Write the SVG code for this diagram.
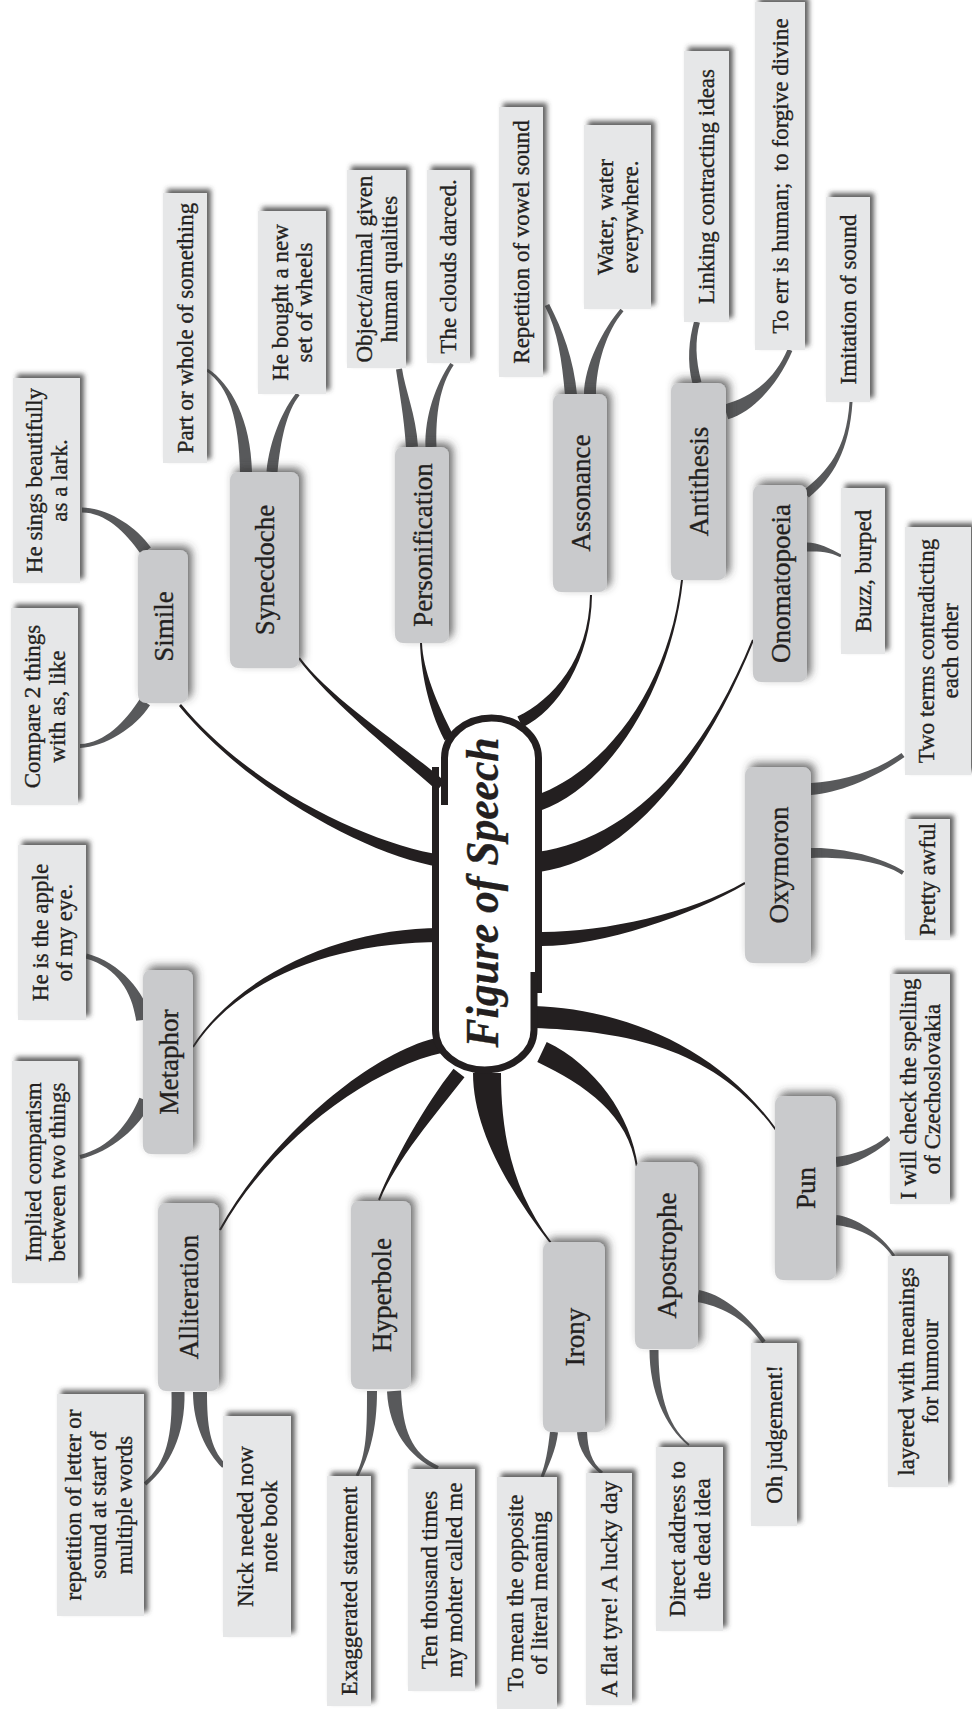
<svg xmlns="http://www.w3.org/2000/svg" width="972" height="1709" viewBox="0 0 972 1709">
<style>
  .leaf rect { fill: #e6e7e8; filter: url(#leafShadow); }
  .cat rect { fill: #c9cacc; filter: url(#catShadow); }
  text { font-family: "Liberation Serif", "Times New Roman", serif; fill: #231f20; text-anchor: middle; stroke: #231f20; stroke-width: 0.35; }
  .lt { font-size: 23px; }
  .ct { font-size: 27px; }
  .blk { fill: #231f20; }
  .gry { fill: #58595b; }
  .rim { fill: none; stroke: #231f20; stroke-width: 7; stroke-linejoin: round; }
</style>
<defs>
  <filter id="leafShadow" x="-30%" y="-20%" width="160%" height="140%">
    <feGaussianBlur in="SourceAlpha" stdDeviation="2.5"/>
    <feOffset dx="4" dy="-4" result="b"/>
    <feFlood flood-color="#3a3a3a" flood-opacity="0.8"/>
    <feComposite in2="b" operator="in"/>
    <feMerge><feMergeNode/><feMergeNode in="SourceGraphic"/></feMerge>
  </filter>
  <filter id="catShadow" x="-30%" y="-20%" width="160%" height="140%">
    <feGaussianBlur in="SourceAlpha" stdDeviation="4"/>
    <feOffset dx="4" dy="-4" result="b"/>
    <feFlood flood-color="#3a3a3a" flood-opacity="0.75"/>
    <feComposite in2="b" operator="in"/>
    <feMerge><feMergeNode/><feMergeNode in="SourceGraphic"/></feMerge>
  </filter>
</defs>
<rect width="972" height="1709" fill="#ffffff"/>

<!-- tapered branches: black from the hub, grey from each category -->
<g id="connectors">
  <path class="blk" d="M442,855 C371,844 251,789 181,704 L179,706 C249,791 369,856 440,867 Z"/>
  <path class="blk" d="M445,781.5 C404,745.5 331,699.4 300,657.4 L298,658.6 C329,700.6 396,754.5 437,790.5 Z"/>
  <path class="blk" d="M453.5,735.7 C436.5,702.7 423,670 422,643 L420,643 C421,670 427.5,707.3 444.5,740.3 Z"/>
  <path class="blk" d="M522.6,727.4 C557.6,710.4 591,660 592,595 L590,595 C589,660 552.4,699.6 517.4,716.6 Z"/>
  <path class="blk" d="M540.7,810.5 C607.7,787.5 671,690.1 683,580.1 L681,579.9 C669,689.9 602.3,772.5 535.3,795.5 Z"/>
  <path class="blk" d="M539.4,871.9 C626.4,859.9 700.9,770.4 753.9,640.4 L752.1,639.6 C699.1,769.6 623.6,840.1 536.6,852.1 Z"/>
  <path class="blk" d="M538,946 C600,947 690.5,915.9 745.5,883.9 L744.5,882.1 C689.5,914.1 600,933 538,932 Z"/>
  <path class="blk" d="M534,1028 C620,1031 714.2,1045.6 775.2,1130.6 L776.8,1129.4 C715.8,1044.4 620,1009 534,1006 Z"/>
  <path class="blk" d="M537.3,1061.9 C585.3,1084.9 629,1115.1 636,1167.1 L638,1166.9 C631,1114.9 594.7,1065.1 546.7,1042.1 Z"/>
  <path class="blk" d="M473,1073 C473,1130 509.2,1190.6 550.2,1243.6 L551.8,1242.4 C510.8,1189.4 501,1130 501,1073 Z"/>
  <path class="blk" d="M453.5,1068.7 C424.5,1105.7 394.1,1159.6 378.1,1199.6 L379.9,1200.4 C395.9,1160.4 435.5,1114.3 464.5,1077.3 Z"/>
  <path class="blk" d="M439.3,1037.2 C368.3,1052.2 269.1,1139.5 219.1,1229.5 L220.9,1230.5 C270.9,1140.5 371.7,1067.8 442.7,1052.8 Z"/>
  <path class="blk" d="M441,928 C340,928 239.2,974.5 192.2,1046.5 L193.8,1047.5 C240.8,975.5 340,942 441,942 Z"/>

  <path class="gry" d="M150.9,547.6 C134.9,524.6 105,507.5 82,507.5 L82,512.5 C105,512.5 125.1,531.4 141.1,554.4 Z"/>
  <path class="gry" d="M140,698.7 C125,721.7 105,743 80,744 L80,748 C105,747 135,728.3 150,705.3 Z"/>
  <path class="gry" d="M252,472 C251,420 230.8,383.7 207.8,368.7 L206.2,371.3 C229.2,386.3 239,420 240,472 Z"/>
  <path class="gry" d="M277.5,472.5 C280.5,440.5 286.6,411.3 299.6,395.3 L296.4,392.7 C283.4,408.7 269.5,439.5 266.5,471.5 Z"/>
  <path class="gry" d="M418,446.6 C416,414.6 405,389.6 402,368.6 L396,369.4 C399,390.4 404,415.4 406,447.4 Z"/>
  <path class="gry" d="M436.5,446.8 C435.5,414.8 439.7,386.1 453.7,365.1 L450.3,362.9 C436.3,383.9 424.5,415.2 425.5,447.2 Z"/>
  <path class="gry" d="M577,394.5 C574,359.5 562.2,328.9 549.2,303.9 L544.8,306.1 C557.8,331.1 562,360.5 565,395.5 Z"/>
  <path class="gry" d="M596,395 C596,365 606.5,331.3 623.5,311.3 L620.5,308.7 C603.5,328.7 584,365 584,395 Z"/>
  <path class="gry" d="M701.4,381.9 C695.4,358.9 694.9,340.8 699.9,322.8 L694.1,321.2 C689.1,339.2 686.6,361.1 692.6,384.1 Z"/>
  <path class="gry" d="M728.1,419.2 C752.1,412.2 777.3,386 792.3,351 L787.7,349 C772.7,384 747.9,397.8 723.9,404.8 Z"/>
  <path class="gry" d="M808.8,497.5 C832.8,478.5 849.5,450.1 852.5,402.1 L849.5,401.9 C846.5,449.9 827.2,471.5 803.2,490.5 Z"/>
  <path class="gry" d="M807,551.5 C818,551.5 829.3,551.3 840.3,557.3 L841.7,554.7 C830.7,548.7 818,542.5 807,542.5 Z"/>
  <path class="gry" d="M811,795 C840,793 876.5,777 904.5,757 L901.5,753 C873.5,773 840,781 811,783 Z"/>
  <path class="gry" d="M811,858 C840,857 878.9,859.7 901.9,874.7 L904.1,871.3 C881.1,856.3 840,847 811,848 Z"/>
  <path class="gry" d="M836.5,1167 C855.5,1165 876.6,1151.9 890.6,1139.9 L887.4,1136.1 C873.4,1148.1 854.5,1155 835.5,1157 Z"/>
  <path class="gry" d="M835.5,1225 C854.5,1227 878.8,1235.8 892.8,1256.8 L895.2,1255.2 C881.2,1234.2 855.5,1217 836.5,1215 Z"/>
  <path class="gry" d="M696.9,1301.9 C718.9,1305.9 743.4,1316.2 762.4,1343.2 L765.6,1340.8 C746.6,1313.8 721.1,1294.1 699.1,1290.1 Z"/>
  <path class="gry" d="M649.5,1350 C649.5,1390 664.4,1425.8 688.4,1445.8 L689.6,1444.2 C665.6,1424.2 658.5,1390 658.5,1350 Z"/>
  <path class="gry" d="M550,1431.6 C548,1449.6 545.6,1464.4 540.6,1476.4 L543.4,1477.6 C548.4,1465.6 556,1450.4 558,1432.4 Z"/>
  <path class="gry" d="M577,1432.3 C578,1450.3 589,1464.2 601,1474.2 L603,1471.8 C591,1461.8 588,1449.7 587,1431.7 Z"/>
  <path class="gry" d="M367,1391 C367,1430 366.7,1454.3 355.7,1475.3 L358.3,1476.7 C369.3,1455.7 377,1430 377,1391 Z"/>
  <path class="gry" d="M387,1391.4 C389,1430.4 409.2,1456.8 437.2,1469.8 L438.8,1466.2 C410.8,1453.2 403,1429.6 401,1390.6 Z"/>
  <path class="gry" d="M171.5,1392 C172.5,1435 166.7,1463.5 143.7,1482.5 L146.3,1485.5 C169.3,1466.5 185.5,1435 184.5,1392 Z"/>
  <path class="gry" d="M193,1392 C193,1425 206.2,1451.8 222.2,1467.8 L225.8,1464.2 C209.8,1448.2 207,1425 207,1392 Z"/>
  <path class="gry" d="M149.9,1019.2 C146.9,994.2 120.7,962.6 86.7,953.6 L85.4,958.4 C119.4,967.4 133.1,995.8 136.1,1020.8 Z"/>
  <path class="gry" d="M139.4,1097.8 C129.4,1122.8 109.5,1148.1 79.5,1155.1 L80.5,1158.9 C110.5,1151.9 140.6,1127.2 150.6,1102.2 Z"/>
</g>

<!-- hub -->
<g id="figure-of-speech">
  <path d="M444.5,758 A47,40 0 0 1 538.5,758 L538.5,993 L534,993 L534,1030 A49.25,40 0 0 1 435.5,1030 L435.5,805 L444.5,805 Z" fill="#ffffff"/>
  <path class="rim" d="M444.5,805 L444.5,758 A47,40 0 0 1 538.5,758 L538.5,993"/>
  <path class="rim" d="M435.5,767 L435.5,1030 A49.25,40 0 0 0 534,1030 L534,972"/>
  <text transform="translate(489,892.5) rotate(-90)" y="9" font-size="46" font-weight="bold" font-style="italic" textLength="310" lengthAdjust="spacingAndGlyphs" stroke-width="0.8">Figure of Speech</text>
</g>

<!-- categories -->
<g id="simile" class="cat"><rect x="138" y="550" width="50" height="153" rx="8"/><text class="ct" transform="translate(163,626.5) rotate(-90)" y="9.5">Simile</text></g>
<g id="synecdoche" class="cat"><rect x="230" y="472" width="69" height="196" rx="8"/><text class="ct" transform="translate(264.5,570) rotate(-90)" y="9.5">Synecdoche</text></g>
<g id="personification" class="cat"><rect x="395" y="447" width="54" height="196" rx="8"/><text class="ct" transform="translate(422,545) rotate(-90)" y="9.5">Personification</text></g>
<g id="assonance" class="cat"><rect x="553" y="394" width="54" height="198" rx="8"/><text class="ct" transform="translate(580,493) rotate(-90)" y="9.5">Assonance</text></g>
<g id="antithesis" class="cat"><rect x="671" y="383" width="55" height="197" rx="8"/><text class="ct" transform="translate(698.5,481.5) rotate(-90)" y="9.5">Antithesis</text></g>
<g id="onomatopoeia" class="cat"><rect x="753" y="485" width="54" height="197" rx="8"/><text class="ct" transform="translate(780,583.5) rotate(-90)" y="9.5">Onomatopoeia</text></g>
<g id="oxymoron" class="cat"><rect x="745" y="767" width="66" height="196" rx="8"/><text class="ct" transform="translate(778,865) rotate(-90)" y="9.5">Oxymoron</text></g>
<g id="pun" class="cat"><rect x="775" y="1096" width="61" height="184" rx="8"/><text class="ct" transform="translate(805.5,1188) rotate(-90)" y="9.5">Pun</text></g>
<g id="apostrophe" class="cat"><rect x="635" y="1162" width="63" height="187" rx="8"/><text class="ct" transform="translate(666.5,1255.5) rotate(-90)" y="9.5">Apostrophe</text></g>
<g id="irony" class="cat"><rect x="543" y="1242" width="62" height="190" rx="8"/><text class="ct" transform="translate(574,1337) rotate(-90)" y="9.5">Irony</text></g>
<g id="hyperbole" class="cat"><rect x="351" y="1201" width="60" height="188" rx="8"/><text class="ct" transform="translate(381,1295) rotate(-90)" y="9.5">Hyperbole</text></g>
<g id="alliteration" class="cat"><rect x="158" y="1203" width="61" height="188" rx="8"/><text class="ct" transform="translate(188.5,1297) rotate(-90)" y="9.5">Alliteration</text></g>
<g id="metaphor" class="cat"><rect x="143" y="970" width="50" height="184" rx="8"/><text class="ct" transform="translate(168,1062) rotate(-90)" y="9.5">Metaphor</text></g>

<!-- examples and definitions -->
<g id="leaf-lark" class="leaf"><rect x="13" y="378" width="67" height="205"/><text class="lt" transform="translate(46.5,480.5) rotate(-90)"><tspan x="0" y="-4.5">He sings beautifully</tspan><tspan x="0" y="20">as a lark.</tspan></text></g>
<g id="leaf-compare" class="leaf"><rect x="11" y="608" width="67" height="197"/><text class="lt" transform="translate(44.5,706.5) rotate(-90)"><tspan x="0" y="-4.5">Compare 2 things</tspan><tspan x="0" y="20">with as, like</tspan></text></g>
<g id="leaf-part" class="leaf"><rect x="163" y="193" width="44" height="270"/><text class="lt" transform="translate(185,328) rotate(-90)" y="7.5">Part or whole of something</text></g>
<g id="leaf-wheels" class="leaf"><rect x="258" y="211" width="68" height="183"/><text class="lt" transform="translate(292,302.5) rotate(-90)"><tspan x="0" y="-4.5">He bought a new</tspan><tspan x="0" y="20">set of wheels</tspan></text></g>
<g id="leaf-object" class="leaf"><rect x="347" y="170" width="59" height="198"/><text class="lt" transform="translate(376.5,269) rotate(-90)"><tspan x="0" y="-4.5">Object/animal given</tspan><tspan x="0" y="20">human qualities</tspan></text></g>
<g id="leaf-clouds" class="leaf"><rect x="427" y="170" width="43" height="193"/><text class="lt" transform="translate(448.5,266.5) rotate(-90)" y="7.5">The clouds darced.</text></g>
<g id="leaf-vowel" class="leaf"><rect x="499" y="107" width="44" height="270"/><text class="lt" transform="translate(521,242) rotate(-90)" y="7.5">Repetition of vowel sound</text></g>
<g id="leaf-water" class="leaf"><rect x="584" y="125" width="67" height="184"/><text class="lt" transform="translate(617.5,217) rotate(-90)"><tspan x="0" y="-4.5">Water, water</tspan><tspan x="0" y="20">everywhere.</tspan></text></g>
<g id="leaf-linking" class="leaf"><rect x="684" y="51" width="45" height="271"/><text class="lt" transform="translate(706.5,186.5) rotate(-90)" y="7.5">Linking contracting ideas</text></g>
<g id="leaf-err" class="leaf"><rect x="755" y="2" width="50" height="348"/><text class="lt" transform="translate(780,176) rotate(-90)" y="7.5" style="white-space:pre">To err is human;  to forgive divine</text></g>
<g id="leaf-imitation" class="leaf"><rect x="826" y="197" width="44" height="205"/><text class="lt" transform="translate(848,299.5) rotate(-90)" y="7.5">Imitation of sound</text></g>
<g id="leaf-buzz" class="leaf"><rect x="841" y="488" width="44" height="166"/><text class="lt" transform="translate(863,571) rotate(-90)" y="7.5">Buzz, burped</text></g>
<g id="leaf-two-terms" class="leaf"><rect x="905" y="527" width="66" height="248"/><text class="lt" transform="translate(938,651) rotate(-90)"><tspan x="0" y="-4.5">Two terms contradicting</tspan><tspan x="0" y="20">each other</tspan></text></g>
<g id="leaf-pretty" class="leaf"><rect x="905" y="819" width="45" height="121"/><text class="lt" transform="translate(927.5,879.5) rotate(-90)" y="7.5">Pretty awful</text></g>
<g id="leaf-spelling" class="leaf"><rect x="890" y="974" width="60" height="230"/><text class="lt" transform="translate(920,1089) rotate(-90)"><tspan x="0" y="-4.5">I will check the spelling</tspan><tspan x="0" y="20">of Czechoslovakia</tspan></text></g>
<g id="leaf-layered" class="leaf"><rect x="888" y="1256" width="60" height="231"/><text class="lt" transform="translate(918,1371.5) rotate(-90)"><tspan x="0" y="-4.5">layered with meanings</tspan><tspan x="0" y="20">for humour</tspan></text></g>
<g id="leaf-judgement" class="leaf"><rect x="751" y="1343" width="46" height="183"/><text class="lt" transform="translate(774,1434.5) rotate(-90)" y="7.5">Oh judgement!</text></g>
<g id="leaf-direct" class="leaf"><rect x="656" y="1447" width="67" height="184"/><text class="lt" transform="translate(689.5,1539) rotate(-90)"><tspan x="0" y="-4.5">Direct address to</tspan><tspan x="0" y="20">the dead idea</tspan></text></g>
<g id="leaf-flat" class="leaf"><rect x="586" y="1473" width="46" height="232"/><text class="lt" transform="translate(609,1589) rotate(-90)" y="7.5">A flat tyre! A lucky day</text></g>
<g id="leaf-opposite" class="leaf"><rect x="497" y="1477" width="60" height="232"/><text class="lt" transform="translate(527,1593) rotate(-90)"><tspan x="0" y="-4.5">To mean the opposite</tspan><tspan x="0" y="20">of literal meaning</tspan></text></g>
<g id="leaf-ten" class="leaf"><rect x="408" y="1469" width="67" height="222"/><text class="lt" transform="translate(441.5,1580) rotate(-90)"><tspan x="0" y="-4.5">Ten thousand times</tspan><tspan x="0" y="20">my mohter called me</tspan></text></g>
<g id="leaf-exaggerated" class="leaf"><rect x="327" y="1476" width="44" height="230"/><text class="lt" transform="translate(349,1591) rotate(-90)" y="7.5">Exaggerated statement</text></g>
<g id="leaf-nick" class="leaf"><rect x="223" y="1416" width="68" height="221"/><text class="lt" transform="translate(257,1526.5) rotate(-90)"><tspan x="0" y="-4.5">Nick needed now</tspan><tspan x="0" y="20">note book</tspan></text></g>
<g id="leaf-repetition" class="leaf"><rect x="57" y="1394" width="87" height="222"/><text class="lt" transform="translate(100.5,1505) rotate(-90)"><tspan x="0" y="-20">repetition of letter or</tspan><tspan x="0" y="5.5">sound at start of</tspan><tspan x="0" y="31">multiple words</tspan></text></g>
<g id="leaf-implied" class="leaf"><rect x="12" y="1061" width="66" height="222"/><text class="lt" transform="translate(45,1172) rotate(-90)"><tspan x="0" y="-4.5">Implied comparism</tspan><tspan x="0" y="20">between two things</tspan></text></g>
<g id="leaf-apple" class="leaf"><rect x="18" y="845" width="68" height="175"/><text class="lt" transform="translate(52,932.5) rotate(-90)"><tspan x="0" y="-4.5">He is the apple</tspan><tspan x="0" y="20">of my eye.</tspan></text></g>
</svg>
